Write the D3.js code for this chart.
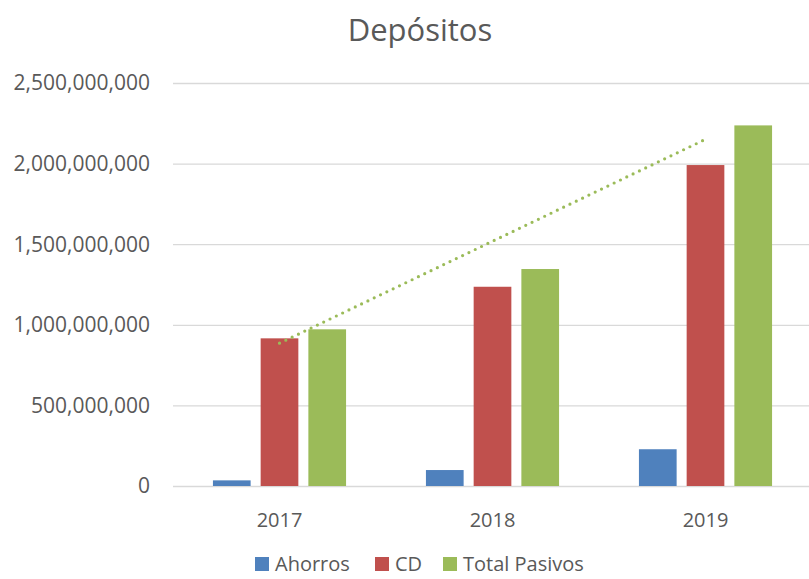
<!DOCTYPE html>
<html>
<head>
<meta charset="utf-8">
<script src="https://cdn.jsdelivr.net/npm/d3@7"></script>
<style>
  body { margin: 0; background: #fff; }
  svg { display: block; font-family: "Open Sans", sans-serif; }
</style>
</head>
<body>
<div id="chart"></div>
<script>
const years = ["2017", "2018", "2019"];
const seriesNames = ["Ahorros", "CD", "Total Pasivos"];
const ahorros = [35000000, 99000000, 228000000];
const cd = [916000000, 1236000000, 1991000000];
const totalPasivos = [972000000, 1346000000, 2237000000];
const yTicks = [0, 500000000, 1000000000, 1500000000, 2000000000, 2500000000];

const seriesColors = ["#4F81BD", "#C0504D", "#9BBB59"];
const textColor = "#595959";
const gridColor = "#D9D9D9";

const width = 809, height = 579;
const margin = { top: 83, right: -3, bottom: 93, left: 173 };
const innerW = width - margin.left - margin.right;
const innerH = height - margin.top - margin.bottom;

const values = [ahorros, cd, totalPasivos];
const rows = years.map((yr, i) => ({
    year: yr,
    vals: seriesNames.map((s, j) => ({ key: s, value: values[j][i], color: seriesColors[j] }))
}));

const svg = d3.select("#chart")
    .append("svg")
    .attr("width", width)
    .attr("height", height);

svg.append("text")
    .attr("x", 420)
    .attr("y", 41)
    .attr("text-anchor", "middle")
    .style("font-size", "31px")
    .attr("fill", textColor)
    .text("Depósitos");

const g = svg.append("g")
    .attr("transform", `translate(${margin.left},${margin.top})`);

const x0 = d3.scaleBand()
    .domain(years)
    .range([0, innerW])
    .paddingInner(0.375)
    .paddingOuter(0.1875);

const x1 = d3.scaleBand()
    .domain(seriesNames)
    .range([0, x0.bandwidth()])
    .paddingInner(0.21)
    .paddingOuter(0);

const y = d3.scaleLinear()
    .domain([0, 2500000000])
    .range([innerH, 0]);

// gridlines
g.selectAll(".grid")
    .data(yTicks)
    .enter()
    .append("line")
    .attr("x1", 0)
    .attr("x2", innerW)
    .attr("y1", d => y(d) + 0.5)
    .attr("y2", d => y(d) + 0.5)
    .attr("stroke", gridColor)
    .attr("stroke-width", 1.3);

// y labels
g.selectAll(".ylab")
    .data(yTicks)
    .enter()
    .append("text")
    .attr("x", -23)
    .attr("y", d => y(d))
    .attr("dy", "0.35em")
    .attr("text-anchor", "end")
    .style("font-size", "21px")
    .attr("fill", textColor)
    .text(d => d3.format(",")(d));

// x labels
g.selectAll(".xlab")
    .data(years)
    .enter()
    .append("text")
    .attr("x", d => x0(d) + x0.bandwidth() / 2)
    .attr("y", innerH + 41)
    .attr("text-anchor", "middle")
    .style("font-size", "20px")
    .attr("fill", textColor)
    .text(d => d);

// bars
const groups = g.selectAll(".grp")
    .data(rows)
    .enter()
    .append("g")
    .attr("transform", d => `translate(${x0(d.year)},0)`);

groups.selectAll("rect")
    .data(d => d.vals)
    .enter()
    .append("rect")
    .attr("x", d => x1(d.key))
    .attr("y", d => y(d.value))
    .attr("width", x1.bandwidth())
    .attr("height", d => innerH - y(d.value))
    .attr("fill", d => d.color);

// linear trendline of Total Pasivos
const n = totalPasivos.length;
const xs = d3.range(1, n + 1);
const mx = d3.mean(xs), my = d3.mean(totalPasivos);
const slope = d3.sum(xs, (v, i) => (v - mx) * (totalPasivos[i] - my)) / d3.sum(xs, v => (v - mx) * (v - mx));
const intercept = my - slope * mx;
const cx = i => x0(years[i]) + x0.bandwidth() / 2;

g.append("line")
    .attr("x1", cx(0))
    .attr("y1", y(intercept + slope * 1))
    .attr("x2", cx(n - 1))
    .attr("y2", y(intercept + slope * n))
    .attr("stroke", "#9BBB59")
    .attr("stroke-width", 3.2)
    .attr("stroke-linecap", "round")
    .attr("stroke-dasharray", "0 7");

// legend
const legendX = [255, 375, 443];
const legend = svg.selectAll(".leg")
    .data(seriesNames)
    .enter()
    .append("g")
    .attr("transform", (d, i) => `translate(${legendX[i]},557)`);

legend.append("rect")
    .attr("width", 14)
    .attr("height", 14)
    .attr("fill", (d, i) => seriesColors[i]);

legend.append("text")
    .attr("x", 20)
    .attr("y", 7)
    .attr("dy", "0.35em")
    .style("font-size", "20px")
    .attr("fill", textColor)
    .text(d => d);
</script>
</body>
</html>
